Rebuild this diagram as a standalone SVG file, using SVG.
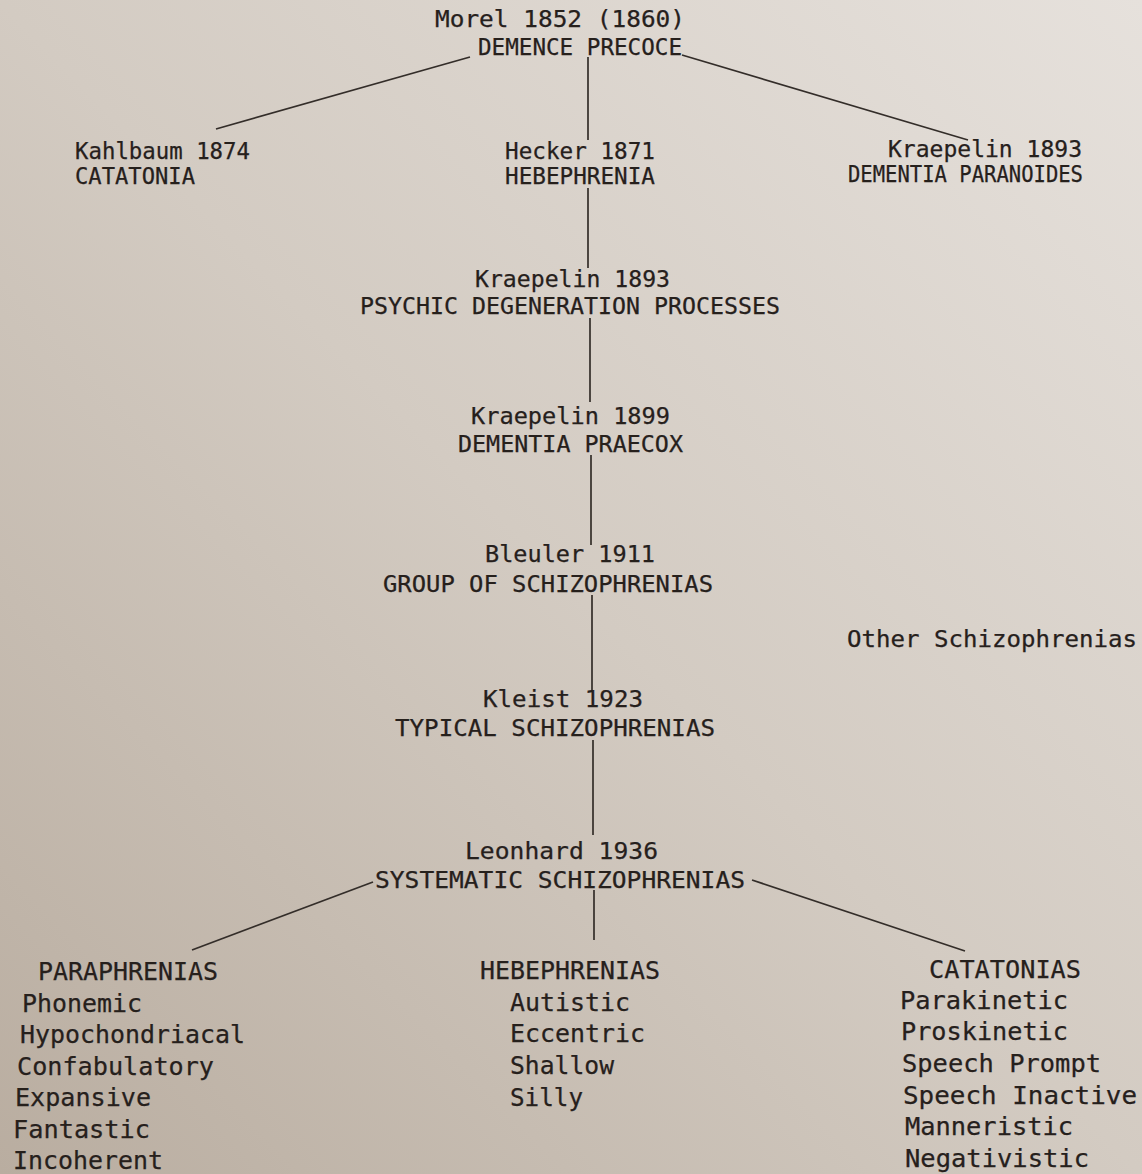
<svg xmlns="http://www.w3.org/2000/svg" width="1142" height="1174" viewBox="0 0 1142 1174">
<defs>
<linearGradient id="bg" x1="1" y1="0" x2="0" y2="1">
<stop offset="0" stop-color="#e6e1dc"/>
<stop offset="0.5" stop-color="#d3cbc2"/>
<stop offset="1" stop-color="#b9ada0"/>
</linearGradient>
<style>
text{font-family:"DejaVu Sans Mono","Liberation Mono",monospace;fill:#26201c;font-size:23px;stroke:#26201c;stroke-width:0.25}
.b text{font-size:25px}
.c line{stroke:#332d29;stroke-width:1.7;fill:none}
</style>
</defs>
<rect width="1142" height="1174" fill="url(#bg)"/>
<g class="c" id="connectors">
<line x1="588" y1="57" x2="588" y2="140"/>
<line x1="470" y1="57" x2="216" y2="129"/>
<line x1="682" y1="55" x2="968" y2="140"/>
<line x1="588" y1="188" x2="588" y2="268"/>
<line x1="590" y1="318" x2="590" y2="402"/>
<line x1="591" y1="455" x2="591" y2="545"/>
<line x1="592" y1="595" x2="592" y2="690"/>
<line x1="593" y1="740" x2="593" y2="835"/>
<line x1="594" y1="890" x2="594" y2="940"/>
<line x1="373" y1="882" x2="192" y2="950"/>
<line x1="752" y1="880" x2="965" y2="951"/>
</g>
<g id="morel"><text x="435" y="27" textLength="250" lengthAdjust="spacingAndGlyphs">Morel 1852 (1860)</text><text x="478" y="55" textLength="204" lengthAdjust="spacingAndGlyphs">DEMENCE PRECOCE</text></g>
<g id="kahlbaum"><text x="75" y="159" textLength="175" lengthAdjust="spacingAndGlyphs">Kahlbaum 1874</text><text x="75" y="184" textLength="120" lengthAdjust="spacingAndGlyphs">CATATONIA</text></g>
<g id="hecker"><text x="505" y="159" textLength="150" lengthAdjust="spacingAndGlyphs">Hecker 1871</text><text x="505" y="184" textLength="150" lengthAdjust="spacingAndGlyphs">HEBEPHRENIA</text></g>
<g id="kraepelin-paranoides"><text x="888" y="157" textLength="194" lengthAdjust="spacingAndGlyphs">Kraepelin 1893</text><text x="848" y="182" textLength="235" lengthAdjust="spacingAndGlyphs">DEMENTIA PARANOIDES</text></g>
<g id="kraepelin-1893"><text x="475" y="287" textLength="195" lengthAdjust="spacingAndGlyphs">Kraepelin 1893</text><text x="360" y="314" textLength="420" lengthAdjust="spacingAndGlyphs">PSYCHIC DEGENERATION PROCESSES</text></g>
<g id="kraepelin-1899"><text x="471" y="424" textLength="199" lengthAdjust="spacingAndGlyphs">Kraepelin 1899</text><text x="458" y="452" textLength="225" lengthAdjust="spacingAndGlyphs">DEMENTIA PRAECOX</text></g>
<g id="bleuler"><text x="485" y="562" textLength="170" lengthAdjust="spacingAndGlyphs">Bleuler 1911</text><text x="383" y="592" textLength="330" lengthAdjust="spacingAndGlyphs">GROUP OF SCHIZOPHRENIAS</text></g>
<g id="other"><text x="847" y="647" textLength="290" lengthAdjust="spacingAndGlyphs">Other Schizophrenias</text></g>
<g id="kleist"><text x="483" y="707" textLength="160" lengthAdjust="spacingAndGlyphs">Kleist 1923</text><text x="395" y="736" textLength="320" lengthAdjust="spacingAndGlyphs">TYPICAL SCHIZOPHRENIAS</text></g>
<g id="leonhard"><text x="465" y="859" textLength="193" lengthAdjust="spacingAndGlyphs">Leonhard 1936</text><text x="375" y="888" textLength="370" lengthAdjust="spacingAndGlyphs">SYSTEMATIC SCHIZOPHRENIAS</text></g>
<g id="paraphrenias" class="b">
<text x="38" y="980" textLength="180" lengthAdjust="spacingAndGlyphs">PARAPHRENIAS</text>
<text x="22" y="1012" textLength="120" lengthAdjust="spacingAndGlyphs">Phonemic</text>
<text x="20" y="1043" textLength="225" lengthAdjust="spacingAndGlyphs">Hypochondriacal</text>
<text x="17" y="1075" textLength="197" lengthAdjust="spacingAndGlyphs">Confabulatory</text>
<text x="15" y="1106" textLength="136" lengthAdjust="spacingAndGlyphs">Expansive</text>
<text x="13" y="1138" textLength="137" lengthAdjust="spacingAndGlyphs">Fantastic</text>
<text x="13" y="1169" textLength="150" lengthAdjust="spacingAndGlyphs">Incoherent</text>
</g>
<g id="hebephrenias" class="b">
<text x="480" y="979" textLength="180" lengthAdjust="spacingAndGlyphs">HEBEPHRENIAS</text>
<text x="510" y="1011" textLength="120" lengthAdjust="spacingAndGlyphs">Autistic</text>
<text x="510" y="1042" textLength="135" lengthAdjust="spacingAndGlyphs">Eccentric</text>
<text x="510" y="1074" textLength="104" lengthAdjust="spacingAndGlyphs">Shallow</text>
<text x="510" y="1106" textLength="73" lengthAdjust="spacingAndGlyphs">Silly</text>
</g>
<g id="catatonias" class="b">
<text x="929" y="978" textLength="152" lengthAdjust="spacingAndGlyphs">CATATONIAS</text>
<text x="900" y="1009" textLength="168" lengthAdjust="spacingAndGlyphs">Parakinetic</text>
<text x="901" y="1040" textLength="167" lengthAdjust="spacingAndGlyphs">Proskinetic</text>
<text x="902" y="1072" textLength="199" lengthAdjust="spacingAndGlyphs">Speech Prompt</text>
<text x="903" y="1104" textLength="234" lengthAdjust="spacingAndGlyphs">Speech Inactive</text>
<text x="905" y="1135" textLength="168" lengthAdjust="spacingAndGlyphs">Manneristic</text>
<text x="905" y="1167" textLength="184" lengthAdjust="spacingAndGlyphs">Negativistic</text>
</g>
</svg>
